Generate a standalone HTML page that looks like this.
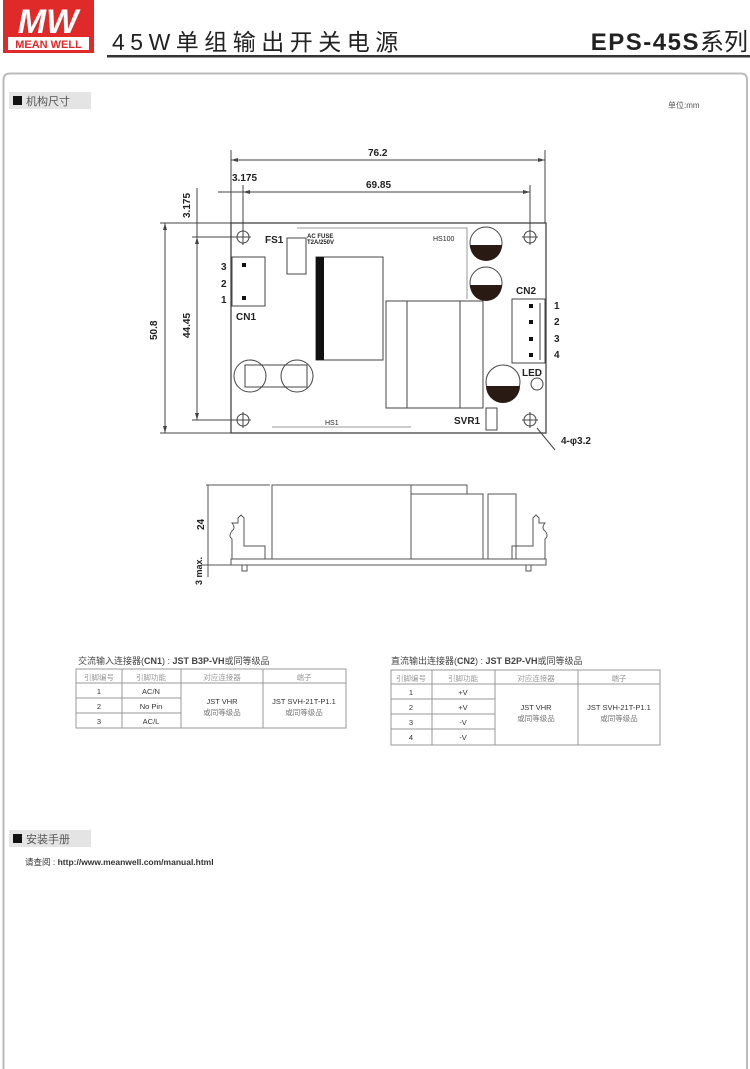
<!DOCTYPE html>
<html><head><meta charset="utf-8"><style>
html,body{margin:0;padding:0;background:#fff;width:750px;height:1069px;overflow:hidden}
svg{display:block}
text{font-family:"Liberation Sans","Noto Sans CJK SC",sans-serif}
</style></head><body>
<svg width="750" height="1069" viewBox="0 0 750 1069" xmlns="http://www.w3.org/2000/svg">
<!-- logo -->
<rect x="3" y="0" width="91" height="53" fill="#e02a2a"/>
<text x="48" y="33" font-size="34" font-style="italic" font-weight="bold" fill="#fff" text-anchor="middle" font-family="Liberation Sans">MW</text>
<rect x="8" y="37" width="81" height="13" fill="#fff"/>
<text x="48.5" y="48" font-size="11" font-weight="bold" fill="#e02a2a" text-anchor="middle">MEAN WELL</text>
<!-- header -->
<text x="112" y="50" font-size="23" fill="#222" letter-spacing="5.5">45W单组输出开关电源</text>
<text x="748" y="50" font-size="24" fill="#222" text-anchor="end"><tspan font-weight="bold" letter-spacing="1.5">EPS-45S</tspan>系列</text>
<rect x="107" y="55" width="643" height="2.5" fill="#333"/>
<!-- frame -->
<path d="M3.5 1069 V80 Q3.5 73.5 10 73.5 H741 Q747 73.5 747 80 V1069" fill="none" stroke="#bbb" stroke-width="2"/>
<rect x="9" y="92" width="82" height="17" fill="#e4e4e4"/>
<rect x="13" y="96" width="9" height="9" fill="#111"/>
<text x="26" y="105" font-size="11" fill="#555">机构尺寸</text>
<text x="668" y="108" font-size="8" fill="#555">单位:mm</text>

<g stroke="#444" fill="none" stroke-width="1">
<line x1="231" y1="150" x2="231" y2="223"/><line x1="545" y1="150" x2="545" y2="223"/>
<line x1="231" y1="160" x2="545" y2="160"/>
<line x1="243" y1="185" x2="243" y2="237"/><line x1="530" y1="185" x2="530" y2="237"/>
<line x1="218" y1="192" x2="530" y2="192"/>
<line x1="160" y1="223" x2="231" y2="223"/><line x1="160" y1="433" x2="231" y2="433"/>
<line x1="192" y1="237" x2="243" y2="237"/><line x1="192" y1="420" x2="243" y2="420"/>
<line x1="165" y1="223" x2="165" y2="433"/>
<line x1="197" y1="188" x2="197" y2="420"/>
<rect x="231" y="223" width="315" height="210" stroke-width="1.3"/>
<circle cx="243" cy="237" r="6"/><line x1="235" y1="237" x2="251" y2="237"/><line x1="243" y1="229" x2="243" y2="245"/>
<circle cx="530" cy="237" r="6"/><line x1="522" y1="237" x2="538" y2="237"/><line x1="530" y1="229" x2="530" y2="245"/>
<circle cx="243" cy="420" r="6"/><line x1="235" y1="420" x2="251" y2="420"/><line x1="243" y1="412" x2="243" y2="428"/>
<circle cx="530" cy="420" r="6"/><line x1="522" y1="420" x2="538" y2="420"/><line x1="530" y1="412" x2="530" y2="428"/>
<rect x="287" y="238" width="19" height="36"/>
<rect x="316" y="257" width="67" height="103"/>
<polyline points="297,228 467,228 467,299" stroke="#999"/>
<rect x="232" y="257" width="33" height="49"/>
<circle cx="250" cy="376" r="16"/><circle cx="297" cy="376" r="16"/>
<rect x="245" y="365" width="62" height="22"/>
<rect x="386" y="301" width="97" height="107"/>
<line x1="407" y1="301" x2="407" y2="408"/><line x1="460" y1="301" x2="460" y2="408"/>
<rect x="512" y="299" width="33" height="64"/>
<line x1="540" y1="303" x2="540" y2="360"/>
<circle cx="537" cy="384" r="6"/>
<line x1="272" y1="427" x2="411" y2="427" stroke="#999"/>
<rect x="486" y="408" width="11" height="22"/>
<line x1="537" y1="428" x2="555" y2="450"/>
<circle cx="486" cy="243" r="16"/><circle cx="486" cy="283" r="16"/><circle cx="503" cy="382" r="17"/>
</g>
<rect x="316" y="257" width="8" height="103" fill="#111"/>
<path d="M470 245 A16 16 0 0 0 502 245 Z" fill="#2a1a14"/>
<path d="M470 285 A16 16 0 0 0 502 285 Z" fill="#2a1a14"/>
<path d="M486 386 A17 17 0 0 0 520 386 Z" fill="#2a1a14"/>
<g fill="#111"><rect x="242" y="263" width="4" height="4"/><rect x="242" y="296" width="4" height="4"/>
<rect x="529" y="304" width="4" height="4"/><rect x="529" y="320" width="4" height="4"/><rect x="529" y="337" width="4" height="4"/><rect x="529" y="353" width="4" height="4"/></g>
<g fill="#444">
<path d="M231 160 l7 -2 v4z"/><path d="M545 160 l-7 -2 v4z"/>
<path d="M243 192 l7 -2 v4z"/><path d="M530 192 l-7 -2 v4z"/>
<path d="M165 223 l-2 7 h4z"/><path d="M165 433 l-2 -7 h4z"/>
<path d="M197 237 l-2 7 h4z"/><path d="M197 420 l-2 -7 h4z"/>
</g>
<g font-size="10" font-weight="bold" fill="#222">
<text x="368" y="156">76.2</text>
<text x="366" y="188">69.85</text>
<text x="232" y="181">3.175</text>
<text transform="translate(190,218) rotate(-90)">3.175</text>
<text transform="translate(157,340) rotate(-90)">50.8</text>
<text transform="translate(190,338) rotate(-90)">44.45</text>
<text x="265" y="243">FS1</text>
<text x="307" y="238" font-size="6">AC FUSE</text>
<text x="307" y="244" font-size="6">T2A/250V</text>
<text x="433" y="241" font-size="7" font-weight="normal">HS100</text>
<text x="221" y="270">3</text><text x="221" y="287">2</text><text x="221" y="303">1</text>
<text x="236" y="320">CN1</text>
<text x="516" y="294">CN2</text>
<text x="554" y="309">1</text><text x="554" y="325">2</text><text x="554" y="342">3</text><text x="554" y="358">4</text>
<text x="522" y="376">LED</text>
<text x="325" y="425" font-size="7" font-weight="normal">HS1</text>
<text x="454" y="424">SVR1</text>
<text x="561" y="444">4-φ3.2</text>
</g>

<g stroke="#555" fill="none" stroke-width="1">
<line x1="206" y1="485" x2="270" y2="485"/>
<line x1="208" y1="485" x2="208" y2="577"/>
<line x1="202" y1="565" x2="248" y2="565"/>
<rect x="231" y="559" width="315" height="6"/>
<rect x="272" y="485" width="139" height="74"/>
<rect x="411" y="485" width="56" height="9"/>
<rect x="411" y="494" width="72" height="65"/>
<rect x="488" y="494" width="28" height="65"/>
<path d="M232 559 v-20 q-4 -3 0 -8 q4 -3 0 -8 h6 v-5 l3 -3 l3 3 v28 h21 v13"/>
<path d="M545 559 v-20 q4 -3 0 -8 q-4 -3 0 -8 h-6 v-5 l-3 -3 l-3 3 v28 h-21 v13"/>
<rect x="242" y="565" width="5" height="6"/><rect x="526" y="565" width="5" height="6"/>
</g>
<g font-size="10" font-weight="bold" fill="#222">
<text transform="translate(204,530) rotate(-90)">24</text>
<text transform="translate(202,585) rotate(-90)" font-size="9">3 max.</text>
</g>

<g font-size="9" fill="#444">
<text x="78" y="664">交流输入连接器(<tspan font-weight="bold">CN1</tspan>) : <tspan font-weight="bold">JST B3P-VH</tspan>或同等级品</text>
<text x="391" y="664">直流输出连接器(<tspan font-weight="bold">CN2</tspan>) : <tspan font-weight="bold">JST B2P-VH</tspan>或同等级品</text>
</g>
<g stroke="#999" fill="none" stroke-width="1">
<rect x="76" y="669" width="270" height="59"/>
<line x1="76" y1="683" x2="346" y2="683"/>
<line x1="76" y1="698" x2="181" y2="698"/><line x1="76" y1="713" x2="181" y2="713"/>
<line x1="122" y1="669" x2="122" y2="728"/><line x1="181" y1="669" x2="181" y2="728"/><line x1="263" y1="669" x2="263" y2="728"/>
<rect x="391" y="670" width="269" height="75"/>
<line x1="391" y1="684" x2="660" y2="684"/>
<line x1="391" y1="699" x2="495" y2="699"/><line x1="391" y1="714" x2="495" y2="714"/><line x1="391" y1="729" x2="495" y2="729"/>
<line x1="432" y1="670" x2="432" y2="745"/><line x1="495" y1="670" x2="495" y2="745"/><line x1="578" y1="670" x2="578" y2="745"/>
</g>
<g font-size="7.5" fill="#333" text-anchor="middle">
<text x="99" y="680" fill="#999">引脚编号</text><text x="151" y="680" fill="#999">引脚功能</text><text x="222" y="680" fill="#999">对应连接器</text><text x="304" y="680" fill="#999">端子</text>
<text x="99" y="694">1</text><text x="151" y="694">AC/N</text>
<text x="99" y="709">2</text><text x="151" y="709">No Pin</text>
<text x="99" y="724">3</text><text x="151" y="724">AC/L</text>
<text x="222" y="704">JST VHR</text><text x="222" y="715" fill="#777">或同等级品</text>
<text x="304" y="704">JST SVH-21T-P1.1</text><text x="304" y="715" fill="#777">或同等级品</text>
<text x="411" y="681" fill="#999">引脚编号</text><text x="463" y="681" fill="#999">引脚功能</text><text x="536" y="681" fill="#999">对应连接器</text><text x="619" y="681" fill="#999">端子</text>
<text x="411" y="695">1</text><text x="463" y="695">+V</text>
<text x="411" y="710">2</text><text x="463" y="710">+V</text>
<text x="411" y="725">3</text><text x="463" y="725">-V</text>
<text x="411" y="740">4</text><text x="463" y="740">-V</text>
<text x="536" y="710">JST VHR</text><text x="536" y="721" fill="#777">或同等级品</text>
<text x="619" y="710">JST SVH-21T-P1.1</text><text x="619" y="721" fill="#777">或同等级品</text>
</g>

<rect x="9" y="830" width="82" height="17" fill="#e4e4e4"/>
<rect x="13" y="834" width="9" height="9" fill="#111"/>
<text x="26" y="843" font-size="11" fill="#555">安装手册</text>
<text x="25" y="865" font-size="8.5" fill="#333">请查阅 : <tspan font-weight="bold">http://www.meanwell.com/manual.html</tspan></text>
</svg>
</body></html>
